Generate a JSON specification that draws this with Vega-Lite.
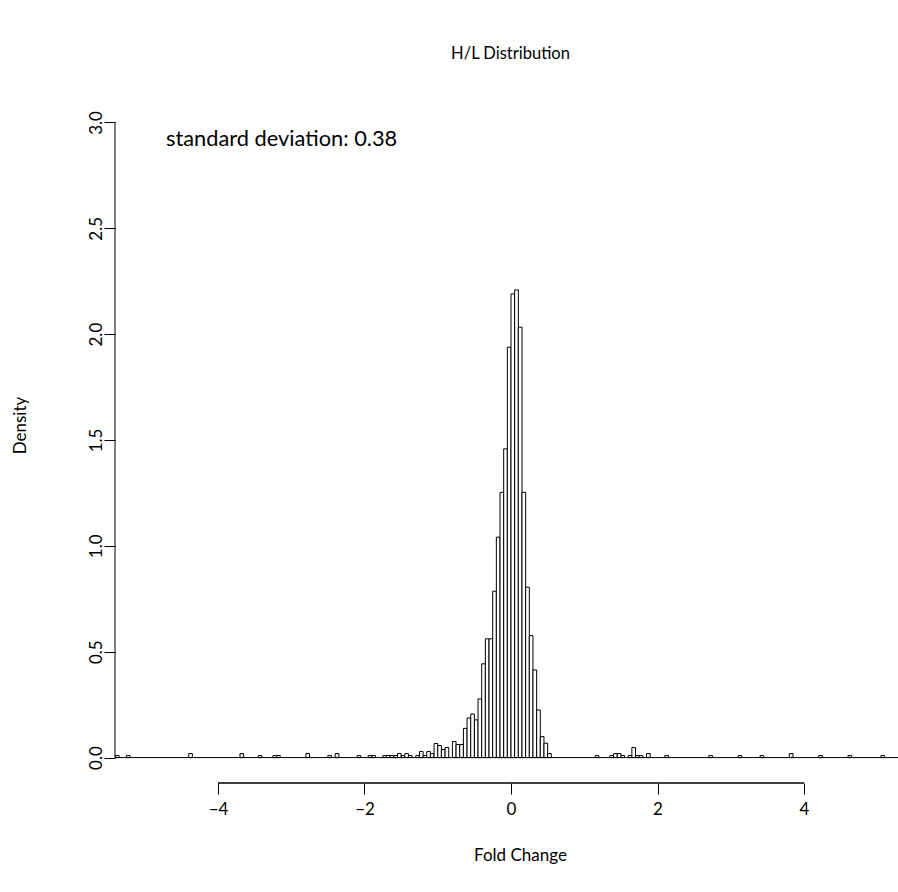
{
  "$schema": "https://vega.github.io/schema/vega-lite/v6.json",
  "width": 783,
  "height": 686,
  "autosize": {"type": "none"},
  "padding": {"left": 115, "top": 97, "right": 0, "bottom": 109},
  "background": "white",
  "title": {"text": "H/L Distribution", "font": "Lato", "fontSize": 16.5, "fontWeight": "normal", "color": "black", "offset": 35, "dx": 4},
  "config": {"view": {"stroke": null}, "font": "Lato"},
  "datasets": {
    "bins": [
      {"x": -5.4, "x2": -5.35, "y": 0.0095},
      {"x": -5.25, "x2": -5.2, "y": 0.0095},
      {"x": -4.4, "x2": -4.35, "y": 0.019},
      {"x": -3.7, "x2": -3.65, "y": 0.019},
      {"x": -3.45, "x2": -3.4, "y": 0.0095},
      {"x": -3.25, "x2": -3.2, "y": 0.0095},
      {"x": -3.2, "x2": -3.15, "y": 0.0095},
      {"x": -2.8, "x2": -2.75, "y": 0.019},
      {"x": -2.5, "x2": -2.45, "y": 0.0095},
      {"x": -2.4, "x2": -2.35, "y": 0.019},
      {"x": -2.1, "x2": -2.05, "y": 0.0095},
      {"x": -1.95, "x2": -1.9, "y": 0.0095},
      {"x": -1.9, "x2": -1.85, "y": 0.0095},
      {"x": -1.75, "x2": -1.7, "y": 0.0095},
      {"x": -1.7, "x2": -1.65, "y": 0.0095},
      {"x": -1.65, "x2": -1.6, "y": 0.0095},
      {"x": -1.6, "x2": -1.55, "y": 0.0095},
      {"x": -1.55, "x2": -1.5, "y": 0.019},
      {"x": -1.5, "x2": -1.45, "y": 0.0095},
      {"x": -1.45, "x2": -1.4, "y": 0.019},
      {"x": -1.4, "x2": -1.35, "y": 0.0095},
      {"x": -1.3, "x2": -1.25, "y": 0.0095},
      {"x": -1.25, "x2": -1.2, "y": 0.0285},
      {"x": -1.2, "x2": -1.15, "y": 0.0095},
      {"x": -1.15, "x2": -1.1, "y": 0.0285},
      {"x": -1.1, "x2": -1.05, "y": 0.019},
      {"x": -1.05, "x2": -1.0, "y": 0.0665},
      {"x": -1.0, "x2": -0.95, "y": 0.057},
      {"x": -0.95, "x2": -0.9, "y": 0.038},
      {"x": -0.9, "x2": -0.85, "y": 0.0475},
      {"x": -0.8, "x2": -0.75, "y": 0.076},
      {"x": -0.75, "x2": -0.7, "y": 0.062},
      {"x": -0.7, "x2": -0.65, "y": 0.062},
      {"x": -0.65, "x2": -0.6, "y": 0.138},
      {"x": -0.6, "x2": -0.55, "y": 0.187},
      {"x": -0.55, "x2": -0.5, "y": 0.206},
      {"x": -0.5, "x2": -0.45, "y": 0.178},
      {"x": -0.45, "x2": -0.4, "y": 0.277},
      {"x": -0.4, "x2": -0.35, "y": 0.443},
      {"x": -0.35, "x2": -0.3, "y": 0.561},
      {"x": -0.3, "x2": -0.25, "y": 0.561},
      {"x": -0.25, "x2": -0.2, "y": 0.786},
      {"x": -0.2, "x2": -0.15, "y": 1.041},
      {"x": -0.15, "x2": -0.1, "y": 1.253},
      {"x": -0.1, "x2": -0.05, "y": 1.458},
      {"x": -0.05, "x2": 0.0, "y": 1.938},
      {"x": 0.0, "x2": 0.05, "y": 2.19},
      {"x": 0.05, "x2": 0.1, "y": 2.209},
      {"x": 0.1, "x2": 0.15, "y": 2.033},
      {"x": 0.15, "x2": 0.2, "y": 1.253},
      {"x": 0.2, "x2": 0.25, "y": 0.805},
      {"x": 0.25, "x2": 0.3, "y": 0.576},
      {"x": 0.3, "x2": 0.35, "y": 0.414},
      {"x": 0.35, "x2": 0.4, "y": 0.225},
      {"x": 0.4, "x2": 0.45, "y": 0.099},
      {"x": 0.45, "x2": 0.5, "y": 0.068},
      {"x": 0.5, "x2": 0.55, "y": 0.019},
      {"x": 1.15, "x2": 1.2, "y": 0.0095},
      {"x": 1.35, "x2": 1.4, "y": 0.0095},
      {"x": 1.4, "x2": 1.45, "y": 0.019},
      {"x": 1.45, "x2": 1.5, "y": 0.019},
      {"x": 1.5, "x2": 1.55, "y": 0.0095},
      {"x": 1.6, "x2": 1.65, "y": 0.0095},
      {"x": 1.65, "x2": 1.7, "y": 0.0475},
      {"x": 1.7, "x2": 1.75, "y": 0.0095},
      {"x": 1.75, "x2": 1.8, "y": 0.0095},
      {"x": 1.85, "x2": 1.9, "y": 0.019},
      {"x": 2.1, "x2": 2.15, "y": 0.0095},
      {"x": 2.7, "x2": 2.75, "y": 0.0095},
      {"x": 3.1, "x2": 3.15, "y": 0.0095},
      {"x": 3.4, "x2": 3.45, "y": 0.0095},
      {"x": 3.8, "x2": 3.85, "y": 0.019},
      {"x": 4.2, "x2": 4.25, "y": 0.0095},
      {"x": 4.6, "x2": 4.65, "y": 0.0095},
      {"x": 5.05, "x2": 5.1, "y": 0.0095}
    ],
    "baseline": [{"x": -5.406, "x2": 5.283, "y": 0}],
    "yline": [{"x": -5.406, "y": 0, "y2": 3}],
    "xline": [{"x": -4, "x2": 4, "y": -0.12}],
    "note": [{"x": -4.71, "y": 2.887, "label": "standard deviation: 0.38"}]
  },
  "layer": [
    {
      "data": {"name": "bins"},
      "mark": {"type": "rect", "fill": "white", "stroke": "black", "strokeWidth": 1},
      "encoding": {
        "x": {
          "field": "x", "type": "quantitative",
          "scale": {"domain": [-5.406, 5.283], "nice": false, "zero": false},
          "axis": {
            "values": [-4, -2, 0, 2, 4], "format": "d", "domain": false, "grid": false,
            "tickSize": 11, "tickColor": "black", "tickWidth": 1,
            "labelFontSize": 17, "labelColor": "black", "labelFont": "Lato", "labelPadding": 7,
            "title": "Fold Change", "titleFont": "Lato", "titleFontSize": 17, "titleFontWeight": "normal", "titleColor": "black",
            "titleX": 405, "titleY": 72, "titleAlign": "center", "titleBaseline": "middle"
          }
        },
        "x2": {"field": "x2"},
        "y": {
          "field": "y", "type": "quantitative",
          "scale": {"domain": [-0.12, 3.12], "nice": false, "zero": false},
          "axis": {
            "values": [0, 0.5, 1, 1.5, 2, 2.5, 3], "format": ".1f", "domain": false, "grid": false,
            "tickSize": 11, "tickColor": "black", "tickWidth": 1,
            "labelAngle": -90, "labelAlign": "center", "labelBaseline": "alphabetic", "labelPadding": 3,
            "labelFontSize": 17, "labelColor": "black", "labelFont": "Lato",
            "title": "Density", "titleFont": "Lato", "titleFontSize": 17, "titleFontWeight": "normal", "titleColor": "black",
            "titleX": -95, "titleY": 328, "titleAlign": "center", "titleBaseline": "middle", "titleAngle": -90
          }
        },
        "y2": {"datum": 0}
      }
    },
    {
      "data": {"name": "baseline"},
      "mark": {"type": "rule", "color": "black", "strokeWidth": 1},
      "encoding": {
        "x": {"field": "x", "type": "quantitative"},
        "x2": {"field": "x2"},
        "y": {"field": "y", "type": "quantitative"}
      }
    },
    {
      "data": {"name": "yline"},
      "mark": {"type": "rule", "color": "black", "strokeWidth": 1},
      "encoding": {
        "x": {"field": "x", "type": "quantitative"},
        "y": {"field": "y", "type": "quantitative"},
        "y2": {"field": "y2"}
      }
    },
    {
      "data": {"name": "xline"},
      "mark": {"type": "rule", "color": "black", "strokeWidth": 1.3},
      "encoding": {
        "x": {"field": "x", "type": "quantitative"},
        "x2": {"field": "x2"},
        "y": {"field": "y", "type": "quantitative"}
      }
    },
    {
      "data": {"name": "note"},
      "mark": {"type": "text", "align": "left", "baseline": "alphabetic", "font": "Lato", "fontSize": 21.8, "color": "black"},
      "encoding": {
        "x": {"field": "x", "type": "quantitative"},
        "y": {"field": "y", "type": "quantitative"},
        "text": {"field": "label"}
      }
    }
  ]
}
